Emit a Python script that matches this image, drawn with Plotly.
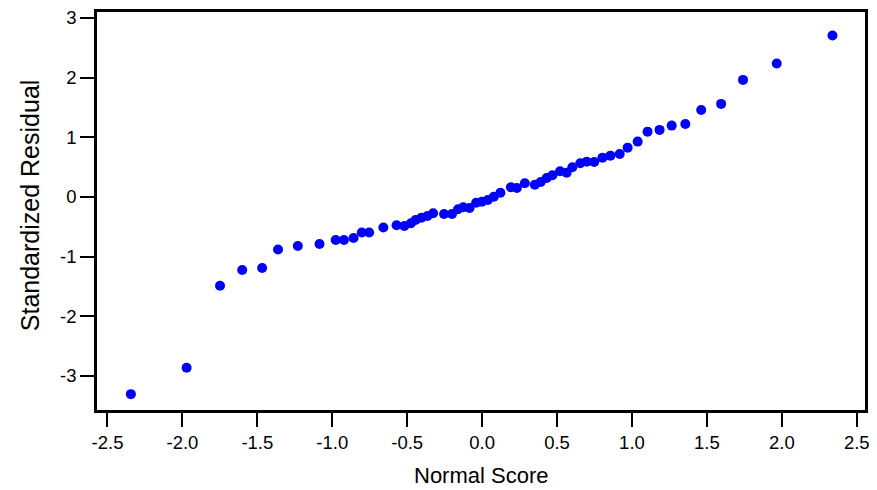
import plotly.graph_objects as go

# Normal scores (x) and standardized residuals (y)
normal_score = [
    -2.344, -1.972, -1.749, -1.601, -1.468, -1.362, -1.230, -1.085, -0.977, -0.922,
    -0.858, -0.803, -0.754, -0.659, -0.571, -0.519, -0.475, -0.444, -0.405, -0.365,
    -0.327, -0.254, -0.201, -0.161, -0.126, -0.084, -0.040, -0.002, 0.038, 0.078,
    0.122, 0.192, 0.232, 0.285, 0.352, 0.391, 0.431, 0.469, 0.520, 0.564,
    0.602, 0.655, 0.698, 0.748, 0.803, 0.856, 0.918, 0.971, 1.038, 1.104,
    1.184, 1.265, 1.356, 1.462, 1.595, 1.741, 1.966, 2.338,
]
std_residual = [
    -3.304, -2.863, -1.489, -1.224, -1.191, -0.881, -0.822, -0.788, -0.721, -0.721,
    -0.688, -0.595, -0.595, -0.512, -0.475, -0.486, -0.441, -0.386, -0.347, -0.319,
    -0.273, -0.285, -0.285, -0.206, -0.173, -0.185, -0.096, -0.079, -0.050, 0.005,
    0.072, 0.163, 0.151, 0.230, 0.206, 0.252, 0.319, 0.364, 0.431, 0.408,
    0.498, 0.565, 0.592, 0.587, 0.659, 0.693, 0.721, 0.827, 0.928, 1.095,
    1.124, 1.196, 1.224, 1.459, 1.560, 1.962, 2.236, 2.705,
]

x_ticks = [-2.5, -2.0, -1.5, -1.0, -0.5, 0.0, 0.5, 1.0, 1.5, 2.0, 2.5]
x_tick_labels = ["-2.5", "-2.0", "-1.5", "-1.0", "-0.5", "0.0", "0.5", "1.0", "1.5", "2.0", "2.5"]
y_ticks = [-3, -2, -1, 0, 1, 2, 3]
y_tick_labels = ["-3", "-2", "-1", "0", "1", "2", "3"]

FONT = "Liberation Sans, Arial, sans-serif"

fig = go.Figure()
fig.add_trace(go.Scatter(
    x=normal_score, y=std_residual, mode="markers",
    marker=dict(color="#0000ff", size=10, line=dict(width=0)),
    showlegend=False,
))

axis_common = dict(
    showgrid=False, zeroline=False,
    showline=True, linecolor="black", linewidth=2.5, mirror=True,
    ticks="outside", ticklen=14, tickwidth=2, tickcolor="black",
    tickfont=dict(family=FONT, size=18.5, color="black"),
)

fig.update_xaxes(range=[-2.57, 2.555], tickvals=x_ticks, ticktext=x_tick_labels, **axis_common)
fig.update_yaxes(range=[-3.57, 3.1], tickvals=y_ticks, ticktext=y_tick_labels, **axis_common)

fig.add_annotation(
    text="Normal Score", xref="paper", yref="paper", x=0.5, y=-0.128,
    xanchor="center", yanchor="top", showarrow=False,
    font=dict(family=FONT, size=22, color="black"),
)
fig.add_annotation(
    text="Standardized Residual", xref="paper", yref="paper", x=-0.087, y=0.515,
    xanchor="center", yanchor="middle", textangle=-90, showarrow=False,
    font=dict(family=FONT, size=25, color="black"),
)

fig.update_layout(
    width=877, height=490,
    margin=dict(l=97, r=7, t=12, b=80),
    plot_bgcolor="white", paper_bgcolor="white",
)

fig.write_html(
    "out.html",
    config={"displayModeBar": False},
    post_script="document.body.style.margin='0';document.body.style.padding='0';",
)
